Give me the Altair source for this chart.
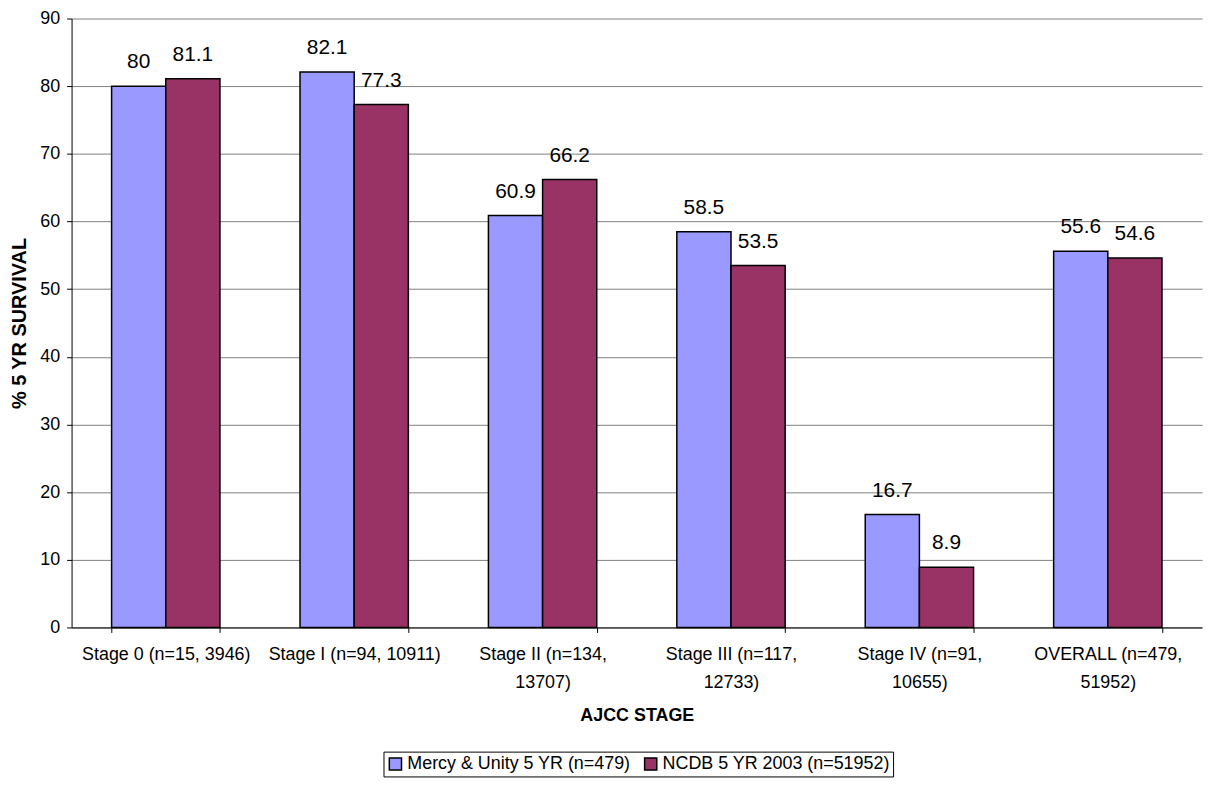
import altair as alt
import pandas as pd

categories = [
    "Stage 0 (n=15, 3946)",
    "Stage I (n=94, 10911)",
    "Stage II (n=134, 13707)",
    "Stage III (n=117, 12733)",
    "Stage IV (n=91, 10655)",
    "OVERALL (n=479, 51952)",
]
series = ["Mercy & Unity 5 YR (n=479)", "NCDB 5 YR 2003 (n=51952)"]
mercy = [80, 82.1, 60.9, 58.5, 16.7, 55.6]
ncdb = [81.1, 77.3, 66.2, 53.5, 8.9, 54.6]
colors = ["#9999FF", "#993366"]

rows = []
for i, c in enumerate(categories):
    for s, vals in zip(series, [mercy, ncdb]):
        v = vals[i]
        rows.append({"stage": c, "series": s, "value": v, "label": f"{v:g}"})
df = pd.DataFrame(rows)

FONT = "Liberation Sans"

label_expr = (
    "length(datum.label) > 21 ? "
    "[split(datum.label, ', ')[0] + ',', split(datum.label, ', ')[1]] : datum.label"
)

base = alt.Chart(df).encode(
    x=alt.X(
        "stage:N",
        sort=categories,
        scale=alt.Scale(paddingInner=0.425, paddingOuter=0.2125),
        axis=alt.Axis(
            title="AJCC STAGE",
            titleFont=FONT,
            titleFontSize=18,
            titleFontWeight="bold",
            titleColor="black",
            titleY=89,
            titleBaseline="middle",
            labelFont=FONT,
            labelFontSize=18,
            labelColor="black",
            labelAngle=0,
            labelPadding=13,
            labelLineHeight=28,
            labelExpr=label_expr,
            labelLimit=400,
            tickBand="extent",
            tickSize=5,
            tickColor="black",
            domainColor="black",
            domainWidth=1,
            grid=False,
        ),
    ),
    xOffset=alt.XOffset(
        "series:N", sort=series, scale=alt.Scale(paddingInner=0, paddingOuter=0)
    ),
    y=alt.Y(
        "value:Q",
        scale=alt.Scale(domain=[0, 90], nice=False),
        axis=alt.Axis(
            title="% 5 YR SURVIVAL",
            titleFont=FONT,
            titleFontSize=20,
            titleFontWeight="bold",
            titleColor="black",
            titleX=-52,
            titleY=306.5,
            titleAngle=-90,
            titleBaseline="middle",
            titleAlign="center",
            values=list(range(0, 100, 10)),
            labelFont=FONT,
            labelFontSize=18,
            labelColor="black",
            labelPadding=7,
            tickSize=5,
            tickColor="black",
            domainColor="black",
            domainWidth=1,
            grid=True,
            gridColor="#808080",
            gridWidth=1,
        ),
    ),
)

bars = base.mark_bar(stroke="black", strokeWidth=1.5).encode(
    color=alt.Color(
        "series:N",
        sort=series,
        scale=alt.Scale(domain=series, range=colors),
        legend=alt.Legend(
            title=None,
            orient="none",
            direction="horizontal",
            legendX=314,
            legendY=738,
            strokeColor="black",
            padding=3,
            symbolType="square",
            symbolSize=150,
            symbolStrokeColor="black",
            symbolStrokeWidth=1.5,
            labelFont=FONT,
            labelFontSize=18,
            labelColor="black",
            labelOffset=3,
            columnPadding=10,
            labelLimit=400,
        ),
    )
)

texts = base.mark_text(
    dy=-18, baseline="alphabetic", fontSize=21, font=FONT, color="black"
).encode(text="label:N")

chart = (
    alt.layer(bars, texts)
    .properties(
        width=1138,
        height=613,
        autosize=alt.AutoSizeParams(type="none"),
        padding={"left": 64, "top": 8, "right": 2, "bottom": 153},
    )
    .configure_view(stroke=None)
)

chart.save("out.html", embed_options={"renderer": "svg", "actions": False})
